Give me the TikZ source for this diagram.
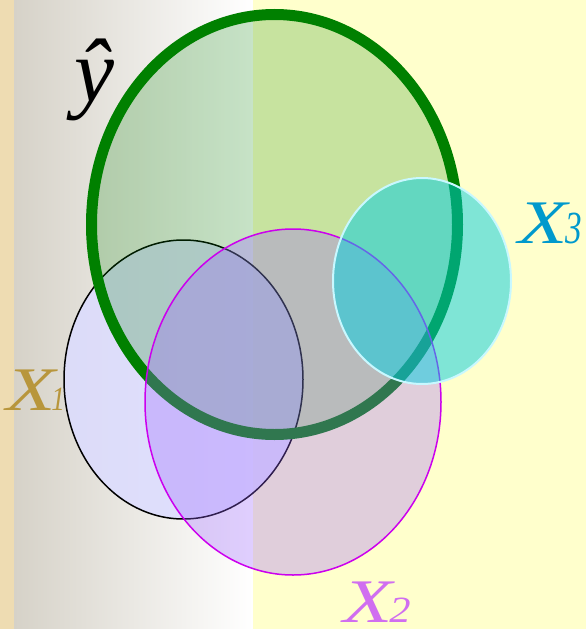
\documentclass[tikz,border=0pt]{standalone}
\usepackage{fontspec}
\usepackage{graphicx}
\setmainfont{Liberation Serif}
\definecolor{strip}{RGB}{238,220,178}
\definecolor{greybg}{RGB}{214,210,200}
\definecolor{yellowbg}{RGB}{255,255,204}
\definecolor{ygreen}{RGB}{0,128,0}
\definecolor{xone}{RGB}{220,220,255}
\definecolor{xtwo}{RGB}{155,100,255}
\definecolor{xtwoline}{RGB}{204,0,238}
\definecolor{xthree}{RGB}{0,205,225}
\definecolor{xthreeline}{RGB}{200,248,255}
\definecolor{lblone}{RGB}{184,150,60}
\definecolor{lbltwo}{RGB}{208,110,240}
\definecolor{lblthree}{RGB}{0,153,204}
\tikzset{
  biglabel/.style={anchor=base west, inner sep=0pt, font=\fontsize{62}{62}\selectfont\itshape},
}
\newcommand{\bigX}{\scalebox{1.3}[1]{X}}
\newcommand{\subdigit}[4]{\kern#1pt\scalebox{#2}[1]{\fontsize{#3}{#3}\selectfont\itshape #4}}
\begin{document}
\begin{tikzpicture}[x=1pt,y=-1pt]
\useasboundingbox (0,0) rectangle (586,629);
% background
\fill[strip] (0,0) rectangle (14,629);
\shade[left color=greybg,right color=white] (14,0) rectangle (253,629);
\fill[yellowbg] (253,0) rectangle (586,629);
% ellipses
\path[fill=xone,fill opacity=0.85,draw=black,line width=1.5pt] (183.5,379.5) ellipse [x radius=119.5,y radius=139.5];
\path[fill=ygreen,fill opacity=0.22,draw=ygreen,line width=11pt] (274.5,224.5) ellipse [x radius=183,y radius=210];
\path[fill=xtwo,fill opacity=0.31,draw=xtwoline,line width=1.5pt] (293,402) ellipse [x radius=148,y radius=173];
\path[fill=xthree,fill opacity=0.5,draw=xthreeline,line width=2pt] (422,281) ellipse [x radius=89,y radius=103];
% labels
\node[anchor=base west,inner sep=0pt,font=\fontsize{90}{90}\selectfont\itshape,text=black] (yhat) at (74,101) {ŷ};
\node[biglabel,text=lblone] (x1) at (6,410) {\bigX\subdigit{-4}{0.8}{34}{1}};
\node[biglabel,text=lbltwo] (x2) at (343,622) {\bigX\subdigit{-3}{1.15}{37}{2}};
\node[biglabel,text=lblthree] (x3) at (518,243) {\bigX\subdigit{-2}{0.72}{46}{3}};
\end{tikzpicture}
\end{document}
